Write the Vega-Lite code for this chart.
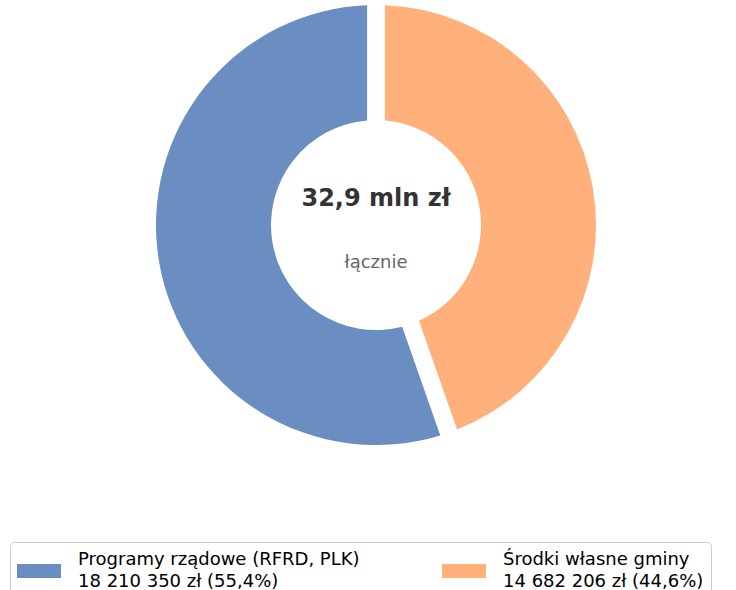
{
  "$schema": "https://vega.github.io/schema/vega-lite/v6.json",
  "autosize": {"type": "none"},
  "width": 720,
  "height": 450,
  "padding": {"left": 16, "top": 0, "right": 0, "bottom": 140},
  "background": "white",
  "config": {"view": {"stroke": null}},
  "layer": [
    {
      "data": {
        "values": [
          {"kategoria": "Programy rządowe (RFRD, PLK)\n18 210 350 zł (55,4%)", "wartosc": 18210350},
          {"kategoria": "Środki własne gminy\n14 682 206 zł (44,6%)", "wartosc": 14682206}
        ]
      },
      "mark": {"type": "arc", "outerRadius": 220, "innerRadius": 105, "padAngle": 0.073},
      "encoding": {
        "theta": {"field": "wartosc", "type": "quantitative", "stack": true},
        "order": {"field": "wartosc", "type": "quantitative", "sort": "ascending"},
        "color": {
          "field": "kategoria",
          "type": "nominal",
          "scale": {
            "domain": ["Programy rządowe (RFRD, PLK)\n18 210 350 zł (55,4%)", "Środki własne gminy\n14 682 206 zł (44,6%)"],
            "range": ["#6b8ec2", "#ffb07b"]
          },
          "legend": {
            "orient": "none",
            "legendX": -6,
            "legendY": 542,
            "direction": "horizontal",
            "columns": 2,
            "title": null,
            "labelExpr": "split(datum.label, '\\n')",
            "symbolType": "M-1,-0.318H1V0.318H-1Z",
            "symbolSize": 1936,
            "symbolStrokeWidth": 0,
            "labelFont": "DejaVu Sans",
            "labelFontSize": 18,
            "labelColor": "#000000",
            "labelOffset": 17,
            "labelLimit": 0,
            "columnPadding": 82,
            "padding": 7,
            "strokeColor": "#cccccc",
            "fillColor": "white",
            "cornerRadius": 4,
            "encode": {"labels": {"update": {"lineHeight": {"value": 22}, "dy": {"value": -11}}}}
          }
        }
      }
    },
    {
      "data": {"values": [{"tekst": "32,9 mln zł"}]},
      "mark": {"type": "text", "font": "DejaVu Sans", "fontSize": 24, "fontWeight": "bold", "color": "#333333", "baseline": "alphabetic", "align": "center", "dy": -19},
      "encoding": {"text": {"field": "tekst", "type": "nominal"}}
    },
    {
      "data": {"values": [{"tekst": "łącznie"}]},
      "mark": {"type": "text", "font": "DejaVu Sans", "fontSize": 18, "color": "#666666", "baseline": "alphabetic", "align": "center", "dy": 43},
      "encoding": {"text": {"field": "tekst", "type": "nominal"}}
    }
  ]
}
